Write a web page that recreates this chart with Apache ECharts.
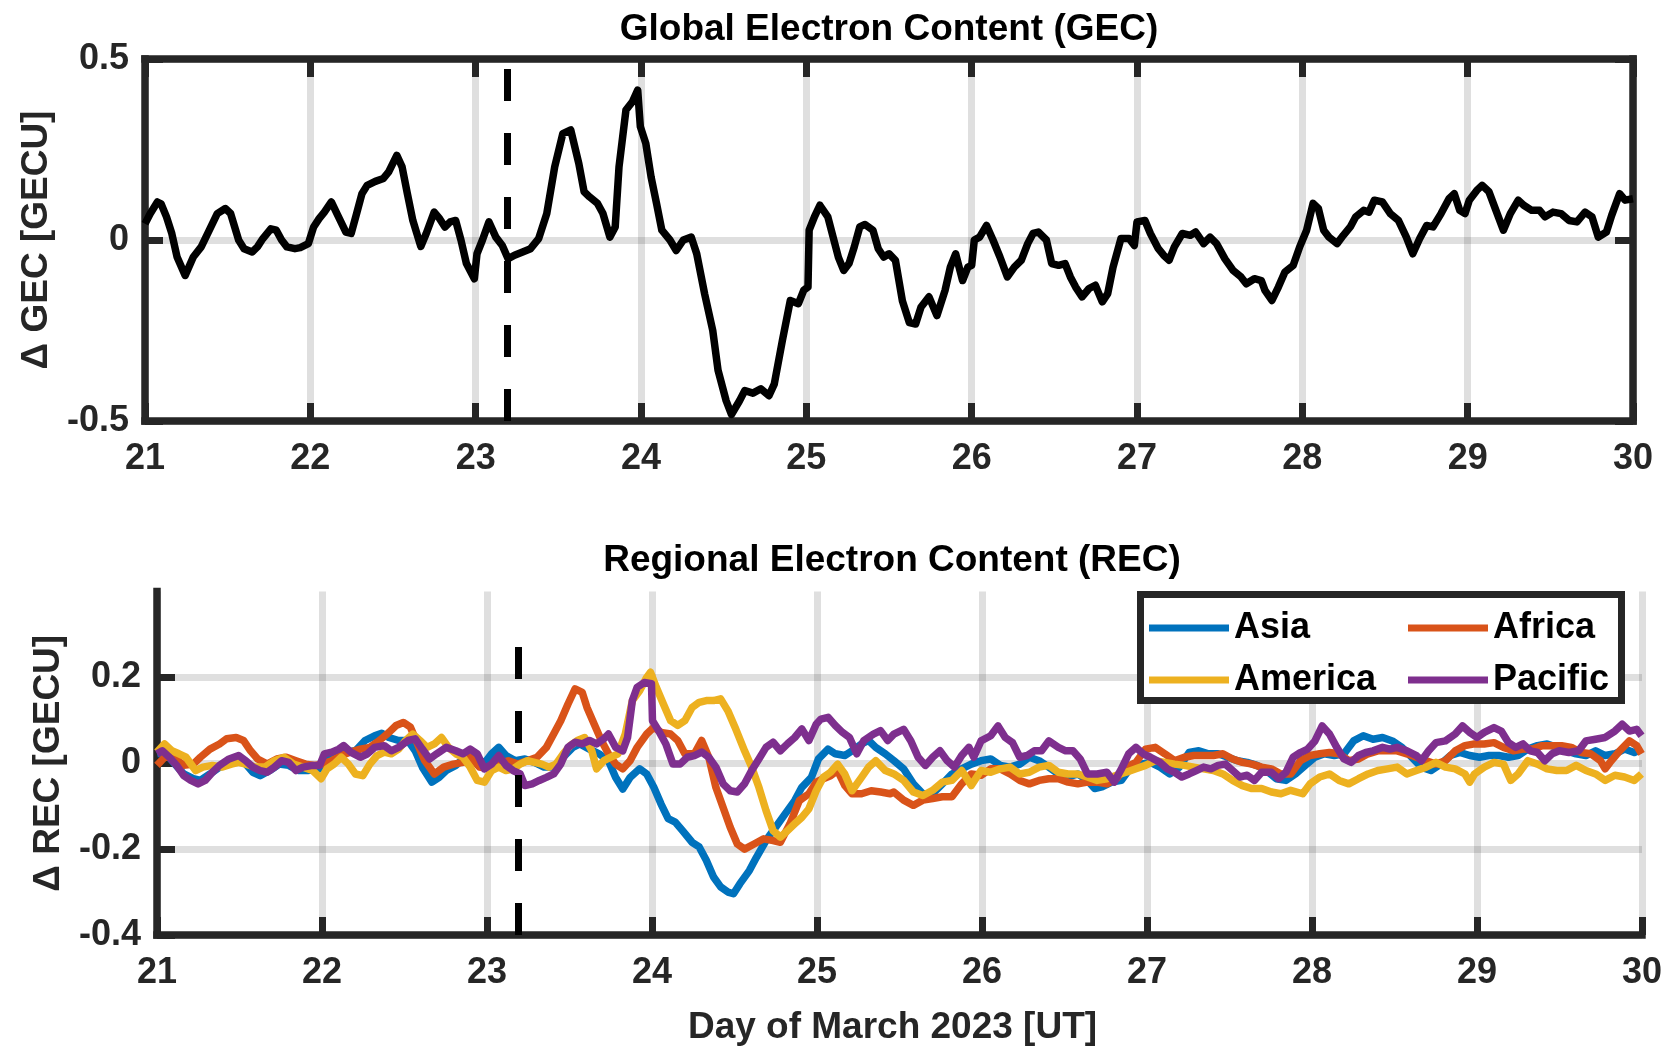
<!DOCTYPE html>
<html>
<head>
<meta charset="utf-8">
<title>Global and Regional Electron Content, March 2023</title>
<script src="https://cdn.jsdelivr.net/npm/echarts@6.0.0/dist/echarts.min.js"></script>
<style>
  html, body { margin: 0; padding: 0; background: #ffffff; }
  #chart { width: 1665px; height: 1051px; }
</style>
</head>
<body>
<div id="chart"></div>
<script>
// ---------------------------------------------------------------------------
// Data: day of March 2023 (UT) and electron-content anomalies
// ---------------------------------------------------------------------------
const gecDays = [
  21.000, 21.032, 21.075, 21.097, 21.130, 21.162, 21.194, 21.243, 21.292, 21.340,
  21.389, 21.437, 21.486, 21.518, 21.567, 21.599, 21.648, 21.680, 21.713, 21.761,
  21.794, 21.826, 21.858, 21.907, 21.939, 21.988, 22.020, 22.053, 22.085, 22.127,
  22.166, 22.215, 22.247, 22.280, 22.312, 22.344, 22.393, 22.442, 22.474, 22.523,
  22.555, 22.587, 22.620, 22.668, 22.701, 22.749, 22.782, 22.814, 22.846, 22.879,
  22.911, 22.944, 22.992, 23.008, 23.041, 23.080, 23.122, 23.161, 23.196, 23.235,
  23.284, 23.332, 23.381, 23.430, 23.478, 23.527, 23.575, 23.624, 23.656, 23.689,
  23.737, 23.770, 23.812, 23.844, 23.867, 23.909, 23.948, 23.980, 23.996, 24.029,
  24.061, 24.094, 24.126, 24.175, 24.213, 24.256, 24.304, 24.337, 24.385, 24.434,
  24.466, 24.515, 24.547, 24.596, 24.628, 24.677, 24.725, 24.774, 24.806, 24.855,
  24.903, 24.952, 24.984, 25.010, 25.017, 25.049, 25.082, 25.130,
  25.194, 25.226, 25.258, 25.290, 25.323, 25.355, 25.403, 25.435, 25.468, 25.500,
  25.539, 25.581, 25.623, 25.661, 25.694, 25.742, 25.790, 25.839, 25.871, 25.903,
  25.945, 25.977, 26.000, 26.016, 26.048, 26.090, 26.129, 26.171, 26.216, 26.258,
  26.300, 26.339, 26.371, 26.403, 26.452, 26.484, 26.526, 26.565, 26.597, 26.629,
  26.668, 26.710, 26.748, 26.790, 26.823, 26.855, 26.903, 26.952, 26.984, 27.000,
  27.048, 27.081, 27.129, 27.161, 27.194, 27.226, 27.274, 27.323, 27.355, 27.403,
  27.442, 27.481, 27.532, 27.581, 27.629, 27.661, 27.710, 27.752, 27.774, 27.816,
  27.855, 27.894, 27.945, 27.984, 28.026, 28.065, 28.097, 28.129, 28.161, 28.210,
  28.248, 28.290, 28.323, 28.371, 28.403, 28.435, 28.484, 28.532, 28.581, 28.629,
  28.668, 28.710, 28.752, 28.790, 28.839, 28.887, 28.919, 28.952, 28.984, 29.010,
  29.055, 29.087, 29.129, 29.171, 29.216, 29.258, 29.306, 29.339, 29.387, 29.435,
  29.468, 29.516, 29.565, 29.613, 29.661, 29.710, 29.752, 29.790, 29.839, 29.871,
  29.919, 29.952, 30.000
];
const gecValues = [
  0.045, 0.073, 0.105, 0.100, 0.064, 0.018, -0.047, -0.098, -0.047, -0.019,
  0.027, 0.073, 0.087, 0.073, -0.001, -0.024, -0.033, -0.019, 0.004, 0.031,
  0.027, 0.000, -0.019, -0.024, -0.021, -0.010, 0.036, 0.059, 0.077, 0.105,
  0.068, 0.022, 0.018, 0.073, 0.128, 0.151, 0.162, 0.170, 0.188, 0.234,
  0.202, 0.128, 0.054, -0.018, 0.018, 0.077, 0.059, 0.036, 0.050, 0.054,
  0.000, -0.065, -0.107, -0.038, 0.000, 0.050, 0.008, -0.015, -0.052, -0.042,
  -0.033, -0.024, 0.004, 0.073, 0.202, 0.294, 0.304, 0.211, 0.133, 0.119,
  0.101, 0.073, 0.008, 0.036, 0.202, 0.359, 0.382, 0.414, 0.313, 0.267,
  0.174, 0.101, 0.027, 0.000, -0.029, 0.000, 0.008, -0.038, -0.149, -0.250,
  -0.360, -0.444, -0.482, -0.444, -0.416, -0.423, -0.411, -0.430, -0.398, -0.278,
  -0.167, -0.176, -0.139, -0.130, 0.027, 0.064, 0.096, 0.064,
  -0.048, -0.084, -0.065, -0.019, 0.036, 0.043, 0.027, -0.024, -0.047, -0.038,
  -0.056, -0.168, -0.228, -0.232, -0.185, -0.157, -0.209, -0.139, -0.075, -0.038,
  -0.112, -0.075, -0.070, 0.000, 0.008, 0.040, 0.000, -0.047, -0.102, -0.075,
  -0.056, -0.010, 0.018, 0.022, 0.000, -0.065, -0.070, -0.065, -0.102, -0.130,
  -0.157, -0.134, -0.125, -0.171, -0.148, -0.075, 0.004, 0.004, -0.015, 0.050,
  0.054, 0.018, -0.024, -0.042, -0.056, -0.019, 0.018, 0.013, 0.022, -0.010,
  0.008, -0.010, -0.052, -0.084, -0.102, -0.121, -0.107, -0.112, -0.139, -0.167,
  -0.130, -0.089, -0.070, -0.019, 0.027, 0.101, 0.087, 0.027, 0.008, -0.010,
  0.013, 0.036, 0.064, 0.082, 0.077, 0.110, 0.105, 0.073, 0.054, 0.008,
  -0.038, 0.004, 0.040, 0.036, 0.073, 0.114, 0.128, 0.082, 0.073, 0.110,
  0.137, 0.151, 0.133, 0.082, 0.027, 0.073, 0.110, 0.096, 0.082, 0.082,
  0.064, 0.077, 0.073, 0.054, 0.050, 0.077, 0.064, 0.008, 0.022, 0.068,
  0.128, 0.110, 0.114
];

const asiaDays = [
  21.000, 21.046, 21.104, 21.162, 21.220, 21.263, 21.321, 21.379, 21.437, 21.495,
  21.538, 21.581, 21.625, 21.683, 21.741, 21.798, 21.856, 21.914, 21.986, 22.030,
  22.088, 22.146, 22.203, 22.261, 22.319, 22.362, 22.406, 22.464, 22.521, 22.565,
  22.608, 22.666, 22.710, 22.753, 22.811, 22.869, 22.927, 22.984, 23.028, 23.071,
  23.115, 23.172, 23.230, 23.288, 23.346, 23.404, 23.462, 23.520, 23.563, 23.621,
  23.679, 23.736, 23.780, 23.823, 23.867, 23.925, 23.968, 24.011, 24.055, 24.098,
  24.141, 24.185, 24.243, 24.286, 24.329, 24.373, 24.416, 24.460, 24.494, 24.532,
  24.590, 24.633, 24.691, 24.749, 24.807, 24.865, 24.908, 24.966, 25.009, 25.067,
  25.111, 25.168, 25.212, 25.270, 25.313, 25.356, 25.414,
  25.466, 25.525, 25.584, 25.642, 25.701, 25.760, 25.818, 25.877, 25.935, 25.994,
  26.053, 26.111, 26.170, 26.229, 26.287, 26.346, 26.405, 26.463, 26.522, 26.581,
  26.639, 26.683, 26.727, 26.786, 26.845, 26.903, 26.962, 27.021, 27.079, 27.138,
  27.196, 27.255, 27.314, 27.372, 27.431, 27.490, 27.548, 27.607, 27.666, 27.724,
  27.783, 27.842, 27.900, 27.959, 28.018, 28.076, 28.135, 28.194, 28.252, 28.311,
  28.370, 28.428, 28.487, 28.545, 28.604, 28.663, 28.721, 28.780, 28.839, 28.897,
  28.956, 29.015, 29.073, 29.132, 29.191, 29.249, 29.308, 29.367, 29.425, 29.484,
  29.543, 29.601, 29.660, 29.719, 29.777, 29.836, 29.894, 29.953, 29.997
];
const asiaValues = [
  0.022, 0.026, 0.000, -0.025, -0.036, -0.040, -0.025, -0.009, -0.002, 0.014,
  -0.002, -0.021, -0.029, -0.017, -0.002, -0.005, -0.017, -0.017, -0.013, 0.014,
  0.014, 0.026, 0.029, 0.053, 0.064, 0.070, 0.060, 0.053, 0.053, 0.029,
  -0.009, -0.044, -0.033, -0.017, -0.005, 0.014, 0.014, 0.000, 0.022, 0.037,
  0.018, 0.006, 0.010, 0.002, -0.009, -0.009, 0.014, 0.037, 0.045, 0.033,
  0.022, 0.006, -0.033, -0.060, -0.033, -0.013, -0.025, -0.056, -0.095, -0.129,
  -0.137, -0.157, -0.184, -0.195, -0.226, -0.265, -0.288, -0.300, -0.304, -0.281,
  -0.250, -0.219, -0.180, -0.149, -0.118, -0.087, -0.056, -0.033, 0.010, 0.033,
  0.022, 0.018, 0.029, 0.045, 0.053, 0.037, 0.022,
  0.006, -0.013, -0.048, -0.071, -0.071, -0.048, -0.025, -0.013, -0.002, 0.006,
  0.010, -0.005, -0.009, -0.002, 0.014, 0.006, -0.009, -0.025, -0.032, -0.025,
  -0.040, -0.059, -0.055, -0.044, -0.040, -0.009, -0.002, 0.002, -0.009, -0.025,
  -0.009, 0.025, 0.029, 0.022, 0.022, 0.014, 0.006, 0.002, -0.005, -0.017,
  -0.036, -0.040, -0.025, -0.005, 0.014, 0.022, 0.018, 0.022, 0.052, 0.064,
  0.056, 0.060, 0.052, 0.037, 0.014, -0.009, -0.017, -0.002, 0.018, 0.025,
  0.018, 0.014, 0.018, 0.018, 0.014, 0.018, 0.033, 0.041, 0.045, 0.037,
  0.029, 0.022, 0.018, 0.029, 0.018, 0.022, 0.033, 0.025, 0.033
];

const africaDays = [
  21.000, 21.046, 21.104, 21.162, 21.220, 21.263, 21.321, 21.379, 21.422, 21.480,
  21.524, 21.567, 21.610, 21.668, 21.726, 21.784, 21.842, 21.900, 21.957, 22.001,
  22.059, 22.117, 22.174, 22.232, 22.290, 22.348, 22.406, 22.449, 22.493, 22.536,
  22.579, 22.623, 22.681, 22.738, 22.796, 22.854, 22.898, 22.955, 23.013, 23.071,
  23.129, 23.187, 23.245, 23.303, 23.360, 23.404, 23.447, 23.491, 23.534, 23.577,
  23.606, 23.650, 23.693, 23.736, 23.780, 23.823, 23.867, 23.910, 23.968, 24.011,
  24.055, 24.112, 24.156, 24.199, 24.257, 24.301, 24.344, 24.387, 24.430, 24.474,
  24.517, 24.561, 24.619, 24.677, 24.734, 24.778, 24.836, 24.893, 24.951, 24.995,
  25.038, 25.082, 25.125, 25.169, 25.212, 25.270, 25.328, 25.386, 25.443,
  25.466, 25.525, 25.584, 25.642, 25.701, 25.760, 25.818, 25.877, 25.935, 25.994,
  26.053, 26.111, 26.170, 26.229, 26.287, 26.346, 26.405, 26.463, 26.522, 26.581,
  26.639, 26.698, 26.757, 26.815, 26.874, 26.933, 26.991, 27.050, 27.108, 27.167,
  27.226, 27.284, 27.343, 27.402, 27.460, 27.519, 27.578, 27.636, 27.695, 27.754,
  27.812, 27.871, 27.930, 27.988, 28.047, 28.106, 28.164, 28.223, 28.282, 28.340,
  28.399, 28.457, 28.516, 28.575, 28.633, 28.692, 28.751, 28.809, 28.868, 28.927,
  28.985, 29.044, 29.103, 29.161, 29.220, 29.279, 29.337, 29.396, 29.455, 29.513,
  29.572, 29.631, 29.689, 29.748, 29.777, 29.806, 29.865, 29.924, 29.968, 29.997
];
const africaValues = [
  -0.005, 0.014, 0.014, -0.005, -0.002, 0.014, 0.033, 0.045, 0.057, 0.060,
  0.053, 0.029, 0.010, -0.002, 0.010, 0.014, 0.006, -0.002, -0.005, -0.002,
  0.006, 0.018, 0.026, 0.033, 0.037, 0.053, 0.072, 0.088, 0.095, 0.084,
  0.045, 0.006, -0.025, -0.009, -0.002, 0.002, 0.014, -0.009, -0.013, -0.002,
  0.006, -0.002, 0.006, 0.014, 0.037, 0.068, 0.099, 0.138, 0.173, 0.165,
  0.130, 0.091, 0.053, 0.022, -0.002, -0.013, 0.006, 0.037, 0.068, 0.084,
  0.072, 0.068, 0.053, 0.022, 0.022, 0.053, 0.014, -0.056, -0.102, -0.149,
  -0.188, -0.200, -0.188, -0.176, -0.180, -0.184, -0.141, -0.087, -0.071, -0.044,
  -0.036, -0.029, -0.017, -0.052, -0.071, -0.071, -0.064, -0.067, -0.071,
  -0.067, -0.086, -0.098, -0.086, -0.082, -0.078, -0.078, -0.048, -0.025, -0.028,
  -0.013, -0.013, -0.025, -0.040, -0.048, -0.040, -0.036, -0.036, -0.044, -0.048,
  -0.044, -0.044, -0.048, -0.036, -0.009, 0.002, 0.033, 0.037, 0.022, 0.006,
  0.014, 0.018, 0.018, 0.018, 0.022, 0.010, 0.002, -0.002, -0.009, -0.013,
  -0.025, -0.025, 0.006, 0.018, 0.022, 0.025, 0.022, 0.006, 0.010, 0.022,
  0.029, 0.029, 0.029, 0.022, 0.014, 0.006, -0.002, 0.006, 0.029, 0.041,
  0.045, 0.045, 0.048, 0.037, 0.029, 0.033, 0.033, 0.041, 0.041, 0.041,
  0.037, 0.025, 0.022, 0.006, -0.013, 0.002, 0.029, 0.052, 0.041, 0.022
];

const americaDays = [
  21.000, 21.046, 21.090, 21.133, 21.176, 21.234, 21.278, 21.336, 21.393, 21.451,
  21.495, 21.538, 21.596, 21.654, 21.712, 21.770, 21.827, 21.885, 21.943, 21.995,
  22.030, 22.073, 22.117, 22.160, 22.203, 22.247, 22.290, 22.334, 22.377, 22.420,
  22.464, 22.507, 22.550, 22.594, 22.637, 22.681, 22.724, 22.767, 22.811, 22.854,
  22.898, 22.941, 22.984, 23.028, 23.071, 23.115, 23.158, 23.201, 23.245, 23.288,
  23.332, 23.375, 23.418, 23.462, 23.505, 23.548, 23.592, 23.635, 23.664, 23.708,
  23.751, 23.794, 23.838, 23.881, 23.925, 23.968, 23.991, 24.026, 24.069, 24.113,
  24.156, 24.199, 24.243, 24.286, 24.329, 24.373, 24.416, 24.460, 24.503, 24.561,
  24.604, 24.648, 24.691, 24.734, 24.778, 24.821, 24.865, 24.908, 24.951, 24.995,
  25.038, 25.082, 25.125, 25.168, 25.212, 25.270, 25.313, 25.356, 25.414,
  25.466, 25.525, 25.584, 25.642, 25.701, 25.760, 25.818, 25.877, 25.935, 25.994,
  26.053, 26.111, 26.170, 26.229, 26.287, 26.346, 26.405, 26.463, 26.522, 26.581,
  26.639, 26.698, 26.757, 26.815, 26.874, 26.933, 26.991, 27.050, 27.108, 27.167,
  27.226, 27.284, 27.343, 27.402, 27.460, 27.519, 27.578, 27.636, 27.695, 27.754,
  27.812, 27.871, 27.944, 27.988, 28.047, 28.106, 28.164, 28.223, 28.282, 28.340,
  28.399, 28.457, 28.516, 28.575, 28.633, 28.692, 28.751, 28.809, 28.868, 28.927,
  28.956, 28.985, 29.044, 29.103, 29.161, 29.205, 29.249, 29.308, 29.367, 29.425,
  29.484, 29.543, 29.601, 29.660, 29.719, 29.777, 29.836, 29.894, 29.953, 29.997
];
const americaValues = [
  0.026, 0.045, 0.029, 0.022, 0.014, -0.017, -0.009, -0.005, -0.009, -0.002,
  0.002, -0.002, -0.009, -0.009, 0.006, 0.014, -0.002, -0.009, -0.017, -0.036,
  -0.013, -0.002, 0.014, -0.002, -0.025, -0.029, -0.002, 0.018, 0.026, 0.022,
  0.033, 0.053, 0.068, 0.053, 0.037, 0.045, 0.060, 0.037, 0.022, 0.014,
  -0.009, -0.040, -0.044, -0.017, -0.009, -0.017, -0.013, -0.002, 0.006, 0.002,
  -0.002, -0.009, -0.002, 0.022, 0.041, 0.053, 0.060, 0.029, -0.013, 0.006,
  0.014, 0.022, 0.068, 0.146, 0.169, 0.200, 0.212, 0.177, 0.138, 0.099,
  0.088, 0.099, 0.130, 0.142, 0.146, 0.146, 0.150, 0.122, 0.084, 0.029,
  -0.009, -0.056, -0.110, -0.157, -0.172, -0.157, -0.141, -0.126, -0.106, -0.064,
  -0.033, -0.021, -0.002, -0.025, -0.064, -0.033, -0.009, 0.006, -0.017,
  -0.025, -0.040, -0.067, -0.075, -0.063, -0.044, -0.040, -0.017, -0.052, -0.017,
  -0.021, -0.013, -0.009, -0.025, -0.021, -0.009, -0.005, -0.021, -0.025, -0.025,
  -0.032, -0.040, -0.036, -0.028, -0.021, -0.013, -0.005, 0.006, 0.002, -0.002,
  -0.005, -0.009, -0.013, -0.017, -0.025, -0.040, -0.052, -0.059, -0.059, -0.067,
  -0.071, -0.063, -0.071, -0.048, -0.032, -0.025, -0.040, -0.048, -0.036, -0.025,
  -0.017, -0.013, -0.009, -0.025, -0.017, -0.009, 0.002, -0.009, -0.013, -0.025,
  -0.044, -0.025, -0.009, 0.002, -0.002, -0.040, -0.025, 0.006, -0.002, -0.013,
  -0.017, -0.017, -0.005, -0.017, -0.025, -0.040, -0.028, -0.032, -0.040, -0.025
];

const pacificDays = [
  21.000, 21.032, 21.075, 21.119, 21.162, 21.205, 21.249, 21.292, 21.336, 21.379,
  21.437, 21.495, 21.538, 21.581, 21.625, 21.668, 21.712, 21.755, 21.798, 21.842,
  21.885, 21.943, 21.986, 22.015, 22.059, 22.102, 22.131, 22.174, 22.232, 22.276,
  22.319, 22.377, 22.420, 22.464, 22.522, 22.565, 22.608, 22.652, 22.695, 22.753,
  22.811, 22.854, 22.898, 22.941, 22.984, 23.028, 23.071, 23.115, 23.158, 23.201,
  23.230, 23.274, 23.317, 23.360, 23.404, 23.447, 23.491, 23.534, 23.577, 23.621,
  23.664, 23.708, 23.736, 23.780, 23.823, 23.852, 23.881, 23.910, 23.953, 23.997,
  24.003, 24.040, 24.084, 24.127, 24.170, 24.214, 24.257, 24.301, 24.344, 24.387,
  24.431, 24.474, 24.517, 24.561, 24.604, 24.648, 24.691, 24.734, 24.778, 24.821,
  24.865, 24.908, 24.951, 24.995, 25.024, 25.067, 25.111, 25.154, 25.197, 25.241,
  25.284, 25.342, 25.385, 25.429,
  25.466, 25.525, 25.569, 25.613, 25.657, 25.701, 25.745, 25.789, 25.833, 25.877,
  25.921, 25.950, 25.994, 26.053, 26.097, 26.141, 26.185, 26.229, 26.273, 26.317,
  26.361, 26.405, 26.463, 26.507, 26.551, 26.595, 26.639, 26.698, 26.757, 26.801,
  26.845, 26.889, 26.933, 26.977, 27.021, 27.079, 27.123, 27.167, 27.211, 27.255,
  27.299, 27.343, 27.387, 27.431, 27.475, 27.519, 27.563, 27.607, 27.651, 27.695,
  27.754, 27.798, 27.842, 27.886, 27.930, 27.974, 28.018, 28.062, 28.106, 28.150,
  28.194, 28.238, 28.282, 28.326, 28.370, 28.428, 28.472, 28.516, 28.575, 28.633,
  28.663, 28.707, 28.751, 28.809, 28.868, 28.912, 28.956, 29.000, 29.044, 29.103,
  29.147, 29.191, 29.235, 29.279, 29.323, 29.367, 29.411, 29.455, 29.499, 29.557,
  29.616, 29.660, 29.719, 29.777, 29.836, 29.880, 29.924, 29.968, 29.997
];
const pacificValues = [
  0.022, 0.029, 0.014, -0.005, -0.029, -0.040, -0.048, -0.040, -0.021, -0.005,
  0.010, 0.018, 0.006, -0.009, -0.017, -0.021, -0.009, 0.006, 0.002, -0.017,
  -0.009, -0.005, -0.005, 0.022, 0.026, 0.033, 0.041, 0.026, 0.014, 0.022,
  0.037, 0.041, 0.029, 0.037, 0.053, 0.057, 0.033, 0.010, 0.022, 0.037,
  0.029, 0.022, 0.033, 0.022, -0.013, -0.002, 0.018, -0.005, -0.017, -0.025,
  -0.052, -0.048, -0.040, -0.033, -0.025, -0.002, 0.037, 0.049, 0.045, 0.053,
  0.045, 0.057, 0.068, 0.037, 0.029, 0.060, 0.146, 0.177, 0.188, 0.185,
  0.099, 0.076, 0.045, -0.002, -0.002, 0.014, 0.018, 0.026, 0.014, -0.009,
  -0.048, -0.064, -0.067, -0.048, -0.017, 0.010, 0.037, 0.049, 0.029, 0.045,
  0.060, 0.080, 0.053, 0.091, 0.103, 0.107, 0.088, 0.072, 0.060, 0.022,
  0.053, 0.068, 0.076, 0.053,
  0.068, 0.079, 0.052, 0.014, -0.005, 0.014, 0.029, 0.006, -0.009, 0.018,
  0.037, 0.014, 0.052, 0.064, 0.087, 0.060, 0.048, 0.014, 0.018, 0.029,
  0.029, 0.052, 0.037, 0.029, 0.029, 0.010, -0.025, -0.025, -0.021, -0.044,
  -0.013, 0.022, 0.037, 0.022, 0.014, 0.002, -0.013, -0.021, -0.032, -0.025,
  -0.017, -0.009, -0.013, -0.005, -0.002, -0.017, -0.032, -0.028, -0.040, -0.021,
  -0.021, -0.036, -0.021, 0.014, 0.025, 0.033, 0.052, 0.087, 0.068, 0.037,
  0.010, 0.002, 0.018, 0.025, 0.029, 0.037, 0.033, 0.037, 0.029, 0.018,
  0.006, 0.029, 0.048, 0.052, 0.068, 0.087, 0.072, 0.060, 0.072, 0.083,
  0.075, 0.048, 0.037, 0.045, 0.029, 0.025, 0.006, 0.022, 0.029, 0.025,
  0.029, 0.052, 0.056, 0.060, 0.075, 0.091, 0.075, 0.079, 0.064
];

// Storm onset marker (day of March 2023, UT)
const stormOnsetDay = 23.19;
const recMarkerTop = 0.3;

// Axis ranges and tick labels
const dayRange = [21, 30];
const gecRange = [-0.5, 0.5];
const gecTicks = [-0.5, 0, 0.5];
const recRange = [-0.4, 0.4];
const recTicks = [-0.4, -0.2, 0, 0.2];

const titles = ['Global Electron Content (GEC)', 'Regional Electron Content (REC)'];
const gecAxisName = '\u0394 GEC [GECU]';
const recAxisName = '\u0394 REC [GECU]';
const dayAxisName = 'Day of March 2023 [UT]';
const regionNames = ['Asia', 'Africa', 'America', 'Pacific'];

// ---------------------------------------------------------------------------
// Styling
// ---------------------------------------------------------------------------
const FONT = '"Liberation Sans", Arial, Helvetica, sans-serif';
const INK = '#262626';
const GRID_INK = 'rgba(38,38,38,0.15)';
const REGION_COLORS = ['#0072BD', '#D95319', '#EDB120', '#7E2F8E'];
const LINE_W = 7.5;

const pairs = (days, vals) => days.map((d, i) => [d, vals[i]]);

const labelStyle = { fontSize: 36, fontWeight: 'bold', color: INK, fontFamily: FONT };
const nameStyle = { fontSize: 37, fontWeight: 'bold', color: INK, fontFamily: FONT };

// Axis used only to draw the light grid lines (kept below the frame)
function gridLinesAxis(gridIndex, range, interval, extra) {
  return Object.assign({
    type: 'value', gridIndex, min: range[0], max: range[1], interval, z: 0,
    axisLine: { show: false, onZero: false },
    axisTick: { show: false },
    axisLabel: { show: false },
    splitLine: { show: true, lineStyle: { color: GRID_INK, width: 7 } }
  }, extra || {});
}

// Axis that draws a frame side with inward ticks (and optionally labels)
function frameAxis(gridIndex, range, interval, position, label, extra) {
  return Object.assign({
    type: 'value', gridIndex, min: range[0], max: range[1], interval, position, z: 1,
    axisLine: { show: true, onZero: false, lineStyle: { color: INK, width: 7.5, cap: 'square' } },
    axisTick: { show: true, inside: true, length: 18, lineStyle: { color: INK, width: 7 } },
    axisLabel: label ? Object.assign({ show: true }, labelStyle, label) : { show: false },
    splitLine: { show: false }
  }, extra || {});
}

const legendBase = {
  top: 608, orient: 'vertical', padding: 0,
  itemWidth: 80, itemHeight: 7, itemGap: 12, icon: 'rect',
  selectedMode: false, z: 4,
  textStyle: { fontSize: 36, fontWeight: 'bold', color: '#000', fontFamily: FONT, lineHeight: 40 }
};

const option = {
  animation: false,
  backgroundColor: '#ffffff',
  grid: [
    { left: 145, top: 59, width: 1488, height: 362 },
    { left: 157, top: 591.5, width: 1488, height: 343.5 }
  ],
  xAxis: [
    // top panel
    gridLinesAxis(0, dayRange, 1, { position: 'bottom' }),
    frameAxis(0, dayRange, 1, 'bottom', { margin: 20 }),
    frameAxis(0, dayRange, 1, 'top', null),
    // bottom panel
    gridLinesAxis(1, dayRange, 1, { position: 'bottom' }),
    frameAxis(1, dayRange, 1, 'bottom', { margin: 20 }, {
      name: dayAxisName, nameLocation: 'middle', nameGap: 74,
      nameTextStyle: Object.assign({ padding: [0, 14, 0, 0] }, nameStyle)
    })
  ],
  yAxis: [
    // top panel
    gridLinesAxis(0, gecRange, 0.5, { position: 'left' }),
    frameAxis(0, gecRange, 0.5, 'left', { margin: 16, customValues: gecTicks }, {
      name: gecAxisName, nameLocation: 'middle', nameGap: 90, nameTextStyle: nameStyle
    }),
    frameAxis(0, gecRange, 0.5, 'right', null),
    // bottom panel
    gridLinesAxis(1, recRange, 0.2, {
      position: 'left',
      splitLine: { show: true, showMaxLine: false, lineStyle: { color: GRID_INK, width: 7 } }
    }),
    frameAxis(1, recRange, 0.2, 'left', { margin: 16, customValues: recTicks }, {
      name: recAxisName, nameLocation: 'middle', nameGap: 90, nameTextStyle: nameStyle,
      axisTick: { show: true, inside: true, length: 18, customValues: recTicks,
                  lineStyle: { color: INK, width: 7 } }
    })
  ],
  legend: [
    Object.assign({ data: [regionNames[0], regionNames[2]], left: 1149 }, legendBase),
    Object.assign({ data: [regionNames[1], regionNames[3]], left: 1408 }, legendBase)
  ],
  graphic: {
    elements: [
      {
        type: 'text', x: 889, y: 11, silent: true,
        style: { text: titles[0], fill: '#000', font: 'bold 37px ' + FONT, align: 'center', verticalAlign: 'top' }
      },
      {
        type: 'text', x: 892, y: 542, silent: true,
        style: { text: titles[1], fill: '#000', font: 'bold 37px ' + FONT, align: 'center', verticalAlign: 'top' }
      },
      {
        // legend frame
        type: 'rect', z: 3, silent: true,
        shape: { x: 1140.5, y: 594.5, width: 481, height: 106 },
        style: { fill: '#ffffff', stroke: INK, lineWidth: 7 }
      }
    ]
  },
  series: [
    {
      name: 'GEC', type: 'line', xAxisIndex: 1, yAxisIndex: 1,
      data: pairs(gecDays, gecValues),
      showSymbol: false, symbol: 'none', silent: true, z: 2,
      lineStyle: { color: '#000000', width: LINE_W, join: 'round' },
      itemStyle: { color: '#000000' },
      markLine: {
        silent: true, symbol: ['none', 'none'], label: { show: false }, z: 5,
        lineStyle: { color: '#000000', width: 7, type: [32, 32] },
        data: [[{ coord: [stormOnsetDay, gecRange[0]] }, { coord: [stormOnsetDay, gecRange[1]] }]]
      }
    },
    {
      name: regionNames[0], type: 'line', xAxisIndex: 4, yAxisIndex: 4,
      data: pairs(asiaDays, asiaValues),
      showSymbol: false, symbol: 'none', silent: true, z: 2,
      lineStyle: { color: REGION_COLORS[0], width: LINE_W, join: 'round' },
      itemStyle: { color: REGION_COLORS[0] }
    },
    {
      name: regionNames[1], type: 'line', xAxisIndex: 4, yAxisIndex: 4,
      data: pairs(africaDays, africaValues),
      showSymbol: false, symbol: 'none', silent: true, z: 2,
      lineStyle: { color: REGION_COLORS[1], width: LINE_W, join: 'round' },
      itemStyle: { color: REGION_COLORS[1] }
    },
    {
      name: regionNames[2], type: 'line', xAxisIndex: 4, yAxisIndex: 4,
      data: pairs(americaDays, americaValues),
      showSymbol: false, symbol: 'none', silent: true, z: 2,
      lineStyle: { color: REGION_COLORS[2], width: LINE_W, join: 'round' },
      itemStyle: { color: REGION_COLORS[2] }
    },
    {
      name: regionNames[3], type: 'line', xAxisIndex: 4, yAxisIndex: 4,
      data: pairs(pacificDays, pacificValues),
      showSymbol: false, symbol: 'none', silent: true, z: 2,
      lineStyle: { color: REGION_COLORS[3], width: LINE_W, join: 'round' },
      itemStyle: { color: REGION_COLORS[3] },
      markLine: {
        silent: true, symbol: ['none', 'none'], label: { show: false }, z: 5,
        lineStyle: { color: '#000000', width: 7, type: [32, 32] },
        data: [[{ coord: [stormOnsetDay, recRange[0]] }, { coord: [stormOnsetDay, recMarkerTop] }]]
      }
    }
  ]
};

const chart = echarts.init(document.getElementById('chart'), null, { renderer: 'canvas' });
chart.setOption(option);
</script>
</body>
</html>
